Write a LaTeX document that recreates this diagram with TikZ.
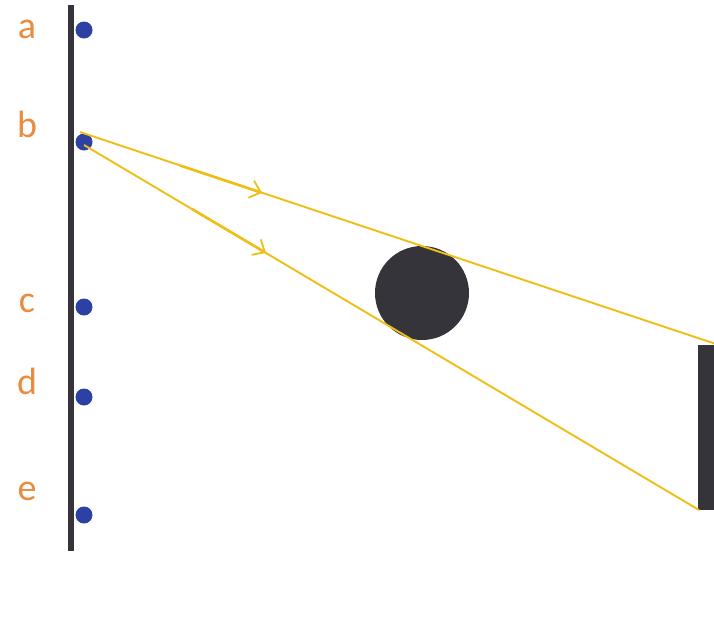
\documentclass[tikz,border=0pt]{standalone}
\usepackage{fontspec}
\setmainfont{Carlito}
\usetikzlibrary{arrows.meta}
\definecolor{wallgray}{RGB}{52,52,58}
\definecolor{dotblue}{RGB}{45,65,165}
\definecolor{rayyellow}{RGB}{240,190,20}
\definecolor{lblorange}{RGB}{232,140,64}
\tikzset{
  pt/.style={circle,fill=dotblue,inner sep=0pt,minimum size=17pt},
  lbl/.style={text=lblorange,font=\fontsize{38}{42}\selectfont,inner sep=0pt},
  ray/.style={draw=rayyellow,line width=1.9pt},
  raydir/.style={draw=rayyellow,line width=2.6pt,-{Straight Barb[length=10pt,width=18pt,line width=1.8pt]}},
}
\begin{document}
\begin{tikzpicture}[x=1pt,y=-1pt]
\useasboundingbox[fill=white] (0,0) rectangle (714,622);
% wall
\coordinate (wtop) at (71,5);
\coordinate (wbot) at (71,551);
\draw[wallgray,line width=6pt] (wtop) -- (wbot);
% points
\node[pt] (a) at (84,30) {};
\node[pt] (b) at (84,142) {};
\node[pt] (c) at (84,307) {};
\node[pt] (d) at (84,397) {};
\node[pt] (e) at (84,515) {};
% labels
\node[lbl] (la) at (27,29) {a};
\node[lbl] (lb) at (27,124) {b};
\node[lbl] (lc) at (27,303) {c};
\node[lbl] (ld) at (27,381) {d};
\node[lbl] (le) at (27,491) {e};
% obstacle
\node[circle,fill=wallgray,minimum size=94pt,inner sep=0pt] (ball) at (422,293) {};
% screen
\fill[wallgray] (698,345) rectangle (716,510);
\coordinate (scrbot) at (699,510);
% rays
\coordinate (s1) at (80,132);
\coordinate (s2) at (84,145);
\coordinate (e1) at (716,344);
\draw[ray] (s1) -- (e1);
\draw[ray] (s2) -- (scrbot);
% direction arrows
\coordinate (a1s) at (180,165.5);
\coordinate (a1e) at (262,192.8);
\coordinate (a2s) at (192,209);
\coordinate (a2e) at (266,252.9);
\draw[raydir] (a1s) -- (a1e);
\draw[raydir] (a2s) -- (a2e);
\end{tikzpicture}
\end{document}
